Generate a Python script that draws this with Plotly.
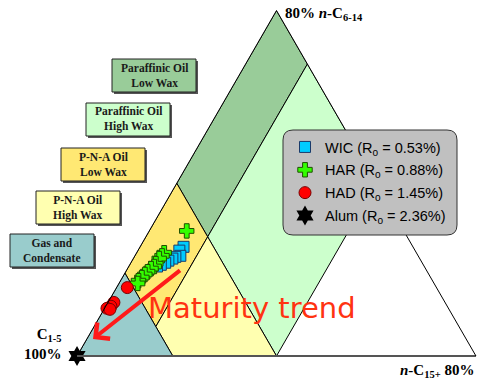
import plotly.graph_objects as go

W, H = 477, 383

# --- sample compositions (%): a = n-C6-14, b = C1-5, c = n-C15+ ---
wic_a = [31.6, 30.5, 29.0, 28.7, 28.2, 27.6, 27.0, 26.4, 25.9]
wic_b = [57.5, 59.1, 59.6, 61.0, 62.0, 63.3, 64.4, 65.8, 67.0]
wic_c = [10.9, 10.4, 11.4, 10.3, 9.8, 9.1, 8.6, 7.8, 7.1]

har_a = [36.2, 29.9, 29.0, 28.2, 26.7, 25.9, 25.3, 24.4, 23.6, 22.7, 21.8, 21.0]
har_b = [54.4, 63.2, 64.2, 65.3, 66.9, 67.7, 68.8, 70.1, 71.2, 72.4, 73.7, 74.3]
har_c = [9.4, 6.9, 6.8, 6.5, 6.4, 6.4, 5.9, 5.5, 5.2, 4.9, 4.5, 4.7]

had_a = [19.8, 15.5, 14.4, 13.8, 13.5]
had_b = [77.5, 83.0, 84.3, 85.6, 85.0]
had_c = [2.7, 1.5, 1.3, 0.6, 1.5]

alum_a = [0.0]
alum_b = [100.0]
alum_c = [0.0]

series_names = [
    "WIC (R<sub>o</sub> = 0.53%)",
    "HAR (R<sub>o</sub> = 0.88%)",
    "HAD (R<sub>o</sub> = 1.45%)",
    "Alum (R<sub>o</sub> = 2.36%)",
]

# --- classification field boundaries (%) ---
B_OIL = 50.0    # C1-5 limit between paraffinic and P-N-A oils
B_GAS = 76.0    # C1-5 limit of gas & condensate
C_WAX = 15.5    # n-C15+ limit between low and high wax
C_MAX = 50.0    # n-C15+ upper limit of the classified fields

field_labels = ["Paraffinic Oil<br>Low Wax", "Paraffinic Oil<br>High Wax",
                "P-N-A Oil<br>Low Wax", "P-N-A Oil<br>High Wax",
                "Gas and<br>Condensate"]
field_colors = ["#99CC99", "#CCFFCC", "#FFE873", "#FFFFB0", "#99CCCC"]


def pt(b, c):
    return (100.0 - b - c, b, c)


fields = [
    [pt(0, 0), pt(0, C_WAX), pt(B_OIL, C_WAX), pt(B_OIL, 0)],
    [pt(0, C_WAX), pt(0, C_MAX), pt(B_OIL, C_MAX), pt(B_OIL, C_WAX)],
    [pt(B_OIL, 0), pt(B_OIL, C_WAX), pt(B_GAS, C_WAX), pt(B_GAS, 0)],
    [pt(B_OIL, C_WAX), pt(B_OIL, 100 - B_OIL), pt(B_GAS, 100 - B_GAS), pt(B_GAS, C_WAX)],
    [pt(B_GAS, 0), pt(100, 0), pt(B_GAS, 100 - B_GAS)],
]

fig = go.Figure()

for poly, col in zip(fields, field_colors):
    poly = poly + [poly[0]]
    fig.add_trace(go.Scatterternary(
        a=[p[0] for p in poly], b=[p[1] for p in poly], c=[p[2] for p in poly],
        mode="lines", fill="toself", fillcolor=col,
        line=dict(color="black", width=1),
        showlegend=False, hoverinfo="skip"))

marker_styles = [
    dict(symbol="square", size=11, color="#00CCFF", line=dict(color="#1A3A6A", width=1)),
    dict(symbol="cross", size=12, color="#33FF00", line=dict(color="#1F4F00", width=1)),
    dict(symbol="circle", size=12, color="#FF0000", line=dict(color="#7A0000", width=1)),
    dict(symbol="hexagram", size=15, color="black", line=dict(color="black", width=0)),
]
series = [(wic_a, wic_b, wic_c), (har_a, har_b, har_c),
          (had_a, had_b, had_c), (alum_a, alum_b, alum_c)]

for i, ((a, b, c), name, mk) in enumerate(zip(series, series_names, marker_styles)):
    fig.add_trace(go.Scatterternary(
        a=a, b=b, c=c, mode="markers", name=name, marker=mk,
        legendgroup=f"g{i}", cliponaxis=False))


def px(x):
    return x / W


def py(y):
    return 1 - y / H


axis_style = dict(showticklabels=False, ticks="", showgrid=False,
                  linecolor="black", linewidth=1, title=dict(text=""))

fig.update_layout(
    width=W, height=H,
    margin=dict(l=0, r=0, t=0, b=0),
    paper_bgcolor="white",
    ternary=dict(
        sum=100,
        domain=dict(x=[px(77), px(476)], y=[py(356), py(10.5)]),
        bgcolor="white",
        aaxis=axis_style,
        baxis=dict(axis_style, linecolor="#555555", linewidth=2),
        caxis=axis_style,
    ),
    legend=dict(
        x=px(285), y=py(131), xanchor="left", yanchor="top",
        bgcolor="rgba(0,0,0,0)", borderwidth=0,
        font=dict(family="Liberation Sans, Arial", size=14.5, color="black"),
        tracegroupgap=1,
    ),
    showlegend=True,
)

shapes = []
annotations = []

# legend panel with rounded corners
x0, y0, x1, y1, r = px(283), py(130), px(457), py(235), 10
rx, ry = r / W, r / H
path = (f"M{x0+rx},{y0} L{x1-rx},{y0} Q{x1},{y0} {x1},{y0-ry} "
        f"L{x1},{y1+ry} Q{x1},{y1} {x1-rx},{y1} L{x0+rx},{y1} "
        f"Q{x0},{y1} {x0},{y1+ry} L{x0},{y0-ry} Q{x0},{y0} {x0+rx},{y0} Z")
shapes.append(dict(type="path", path=path, xref="paper", yref="paper",
                   fillcolor="#C0C0C0", line=dict(color="#333333", width=1),
                   layer="above"))

# field key boxes
box_pos = [(112, 59), (86, 103), (61, 148), (36, 191), (10, 234)]
bw, bh = 84, 33
for (bx, by), label, col in zip(box_pos, field_labels, field_colors):
    shapes.append(dict(type="rect", xref="paper", yref="paper",
                       x0=px(bx + 2), x1=px(bx + bw + 2), y0=py(by + bh + 2), y1=py(by + 2),
                       fillcolor="#555555", line=dict(width=0), layer="above"))
    shapes.append(dict(type="rect", xref="paper", yref="paper",
                       x0=px(bx), x1=px(bx + bw), y0=py(by + bh), y1=py(by),
                       fillcolor=col, line=dict(color="#222222", width=1), layer="above"))
    annotations.append(dict(x=px(bx + bw / 2), y=py(by + bh / 2), xref="paper", yref="paper",
                            text=f"<b>{label}</b>", showarrow=False,
                            font=dict(family="Liberation Serif, Times New Roman", size=11.5,
                                      color="#1A1A1A"),
                            xanchor="center", yanchor="middle", align="center"))

corner_font = dict(family="Liberation Serif, Times New Roman", size=15, color="black")
annotations += [
    dict(x=px(283), y=py(14), xref="paper", yref="paper", showarrow=False,
         text="<b>80% <i>n</i>-C<sub>6-14</sub></b>", xanchor="left", yanchor="middle",
         font=corner_font),
    dict(x=px(64), y=py(344), xref="paper", yref="paper", showarrow=False,
         text="<b>C<sub>1-5</sub><br>100%</b>", xanchor="right", yanchor="middle",
         align="right", font=corner_font),
    dict(x=px(476), y=py(371), xref="paper", yref="paper", showarrow=False,
         text="<b><i>n</i>-C<sub>15+</sub> 80%</b>", xanchor="right", yanchor="middle",
         font=corner_font),
    # maturity arrow and caption
    dict(x=px(93), y=py(339), xref="paper", yref="paper", text=" ", showarrow=True,
         ax=90, ay=-71, arrowhead=4, arrowsize=1, arrowwidth=4, arrowcolor="#FF1A1A",
         standoff=0),
    dict(x=px(252), y=py(308), xref="paper", yref="paper", showarrow=False,
         text="Maturity trend", xanchor="center", yanchor="middle",
         font=dict(family="DejaVu Sans", size=29, color="#FF3311")),
]

fig.update_layout(shapes=shapes, annotations=annotations)
fig.write_html("out.html")
